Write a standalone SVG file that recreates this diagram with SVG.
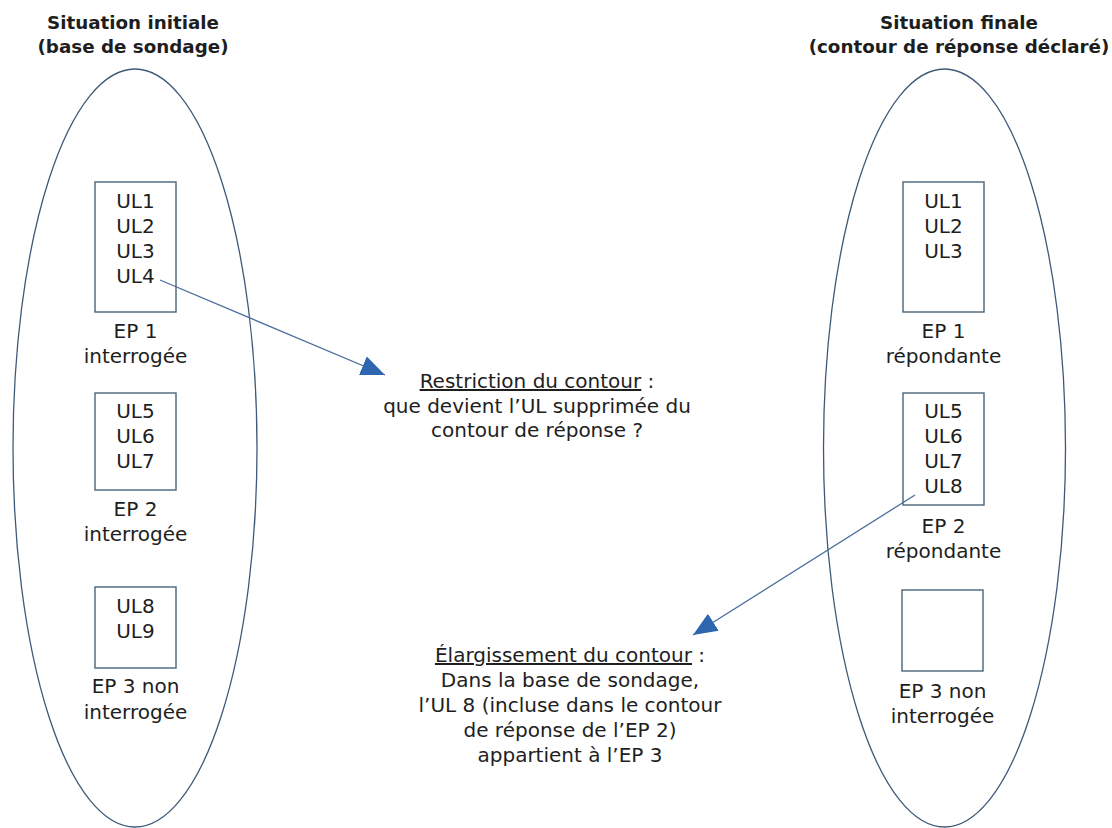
<svg xmlns="http://www.w3.org/2000/svg" width="1112" height="828" viewBox="0 0 1112 828">
<style>
text{font-family:"DejaVu Sans","Liberation Sans",sans-serif;font-size:20px;fill:#1e1e1e;text-anchor:middle}
.h{font-weight:bold;font-size:18.3px}
.ell{fill:none;stroke:#3e5a78;stroke-width:1.3}
.box{fill:none;stroke:#4b6478;stroke-width:1.4}
.con{fill:none;stroke:#4a6e9c;stroke-width:1.3}
</style>
<defs>
<marker id="ah" markerUnits="userSpaceOnUse" markerWidth="26" markerHeight="20" refX="24" refY="10" orient="auto">
<path d="M0,0 L24,10 L0,20 Z" fill="#2f66b0"/>
</marker>
</defs>
<rect width="1112" height="828" fill="#fff"/>
<g id="left">
<text class="h" x="133" y="29">Situation initiale<tspan x="133" dy="23.5">(base de sondage)</tspan></text>
<ellipse class="ell" cx="135" cy="448" rx="122" ry="379"/>
</g>
<g id="ep1-initial">
<rect class="box" x="95" y="182" width="81" height="130"/>
<text x="135.5" y="208">UL1<tspan x="135.5" dy="25">UL2</tspan><tspan x="135.5" dy="25">UL3</tspan><tspan x="135.5" dy="25">UL4</tspan></text>
<text x="135.5" y="338">EP 1<tspan x="135.5" dy="25">interrogée</tspan></text>
</g>
<g id="ep2-initial">
<rect class="box" x="95" y="393" width="81" height="97"/>
<text x="135.5" y="418">UL5<tspan x="135.5" dy="25">UL6</tspan><tspan x="135.5" dy="25">UL7</tspan></text>
<text x="135.5" y="516">EP 2<tspan x="135.5" dy="25">interrogée</tspan></text>
</g>
<g id="ep3-initial">
<rect class="box" x="95" y="587" width="81" height="81"/>
<text x="135.5" y="613">UL8<tspan x="135.5" dy="25">UL9</tspan></text>
<text x="135.5" y="693">EP 3 non<tspan x="135.5" dy="26">interrogée</tspan></text>
</g>
<g id="right">
<text class="h" x="959" y="29">Situation finale<tspan x="959" dy="23.5">(contour de réponse déclaré)</tspan></text>
<ellipse class="ell" cx="944.5" cy="448" rx="121" ry="379"/>
</g>
<g id="ep1-final">
<rect class="box" x="903" y="182" width="81" height="130"/>
<text x="943.5" y="208">UL1<tspan x="943.5" dy="25">UL2</tspan><tspan x="943.5" dy="25">UL3</tspan></text>
<text x="943.5" y="338">EP 1<tspan x="943.5" dy="25">répondante</tspan></text>
</g>
<g id="ep2-final">
<rect class="box" x="903" y="393" width="81" height="112"/>
<text x="943.5" y="418">UL5<tspan x="943.5" dy="25">UL6</tspan><tspan x="943.5" dy="25">UL7</tspan><tspan x="943.5" dy="25">UL8</tspan></text>
<text x="943.5" y="533">EP 2<tspan x="943.5" dy="25">répondante</tspan></text>
</g>
<g id="ep3-final">
<rect class="box" x="902" y="590" width="81" height="81"/>
<text x="942.5" y="698">EP 3 non<tspan x="942.5" dy="25">interrogée</tspan></text>
</g>
<g id="restriction">
<text x="537" y="388"><tspan text-decoration="underline">Restriction du contour</tspan> :<tspan x="537" dy="24.5">que devient l’UL supprimée du</tspan><tspan x="537" dy="24.5">contour de réponse ?</tspan></text>
</g>
<g id="elargissement">
<text x="570" y="662"><tspan text-decoration="underline">Élargissement du contour</tspan> :<tspan x="570" dy="24.5">Dans la base de sondage,</tspan><tspan x="570" dy="25">l’UL 8 (incluse dans le contour</tspan><tspan x="570" dy="25.5">de réponse de l’EP 2)</tspan><tspan x="570" dy="25">appartient à l’EP 3</tspan></text>
</g>
<g id="connectors">
<line class="con" x1="160" y1="280" x2="385" y2="375" marker-end="url(#ah)"/>
<line class="con" x1="915" y1="495" x2="693" y2="635" marker-end="url(#ah)"/>
</g>
</svg>
